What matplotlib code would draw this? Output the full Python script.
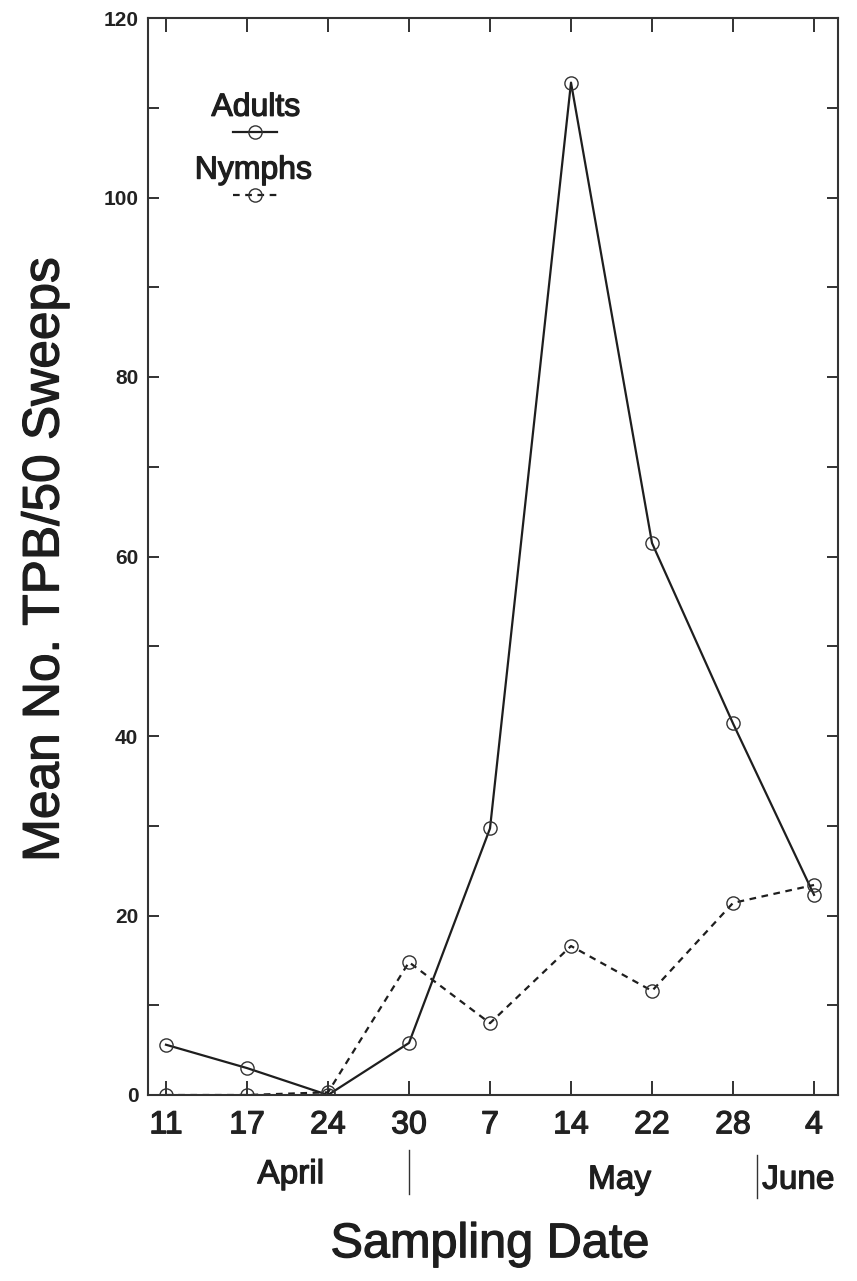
import numpy as np
import matplotlib.pyplot as plt
import matplotlib.patheffects as pe

plt.rcParams["font.family"] = ["Liberation Sans", "DejaVu Sans"]

dates = ["11", "17", "24", "30", "7", "14", "22", "28", "4"]
adults = [5.6, 3.0, 0.0, 5.8, 29.7, 112.8, 61.5, 41.4, 22.3]
nymphs = [0.0, 0.0, 0.3, 14.8, 8.0, 16.6, 11.6, 21.4, 23.4]

x = np.arange(len(dates))
ink = "#1e1e1e"
heavy = [pe.withStroke(linewidth=0.9, foreground=ink)]  # scanned type looks heavier

fig = plt.figure(figsize=(8.57, 12.81), dpi=100)
ax = fig.add_axes([148 / 857, 186 / 1281, 690 / 857, 1077 / 1281])

ax.plot(x, adults, color=ink, lw=1.6, marker="o", ms=9.5,
        mfc="none", mec="#333333", mew=1.0)
ax.plot(x, nymphs, color=ink, lw=1.6, ls=(0, (3, 2.5)), marker="o", ms=9.5,
        mfc="none", mec="#333333", mew=1.0)

ax.set_xlim(-0.222, 8.296)
ax.set_ylim(0, 120)

ax.set_xticks(x)
ax.set_xticklabels(dates, fontsize=23, color=ink, path_effects=heavy)
ax.set_yticks(np.arange(0, 121, 20))
ax.set_yticks(np.arange(0, 121, 10), minor=True)
ax.set_yticklabels([str(v) for v in range(0, 121, 20)], fontsize=15, fontweight="bold",
                   color=ink)

ax.tick_params(axis="x", which="major", direction="in", top=True, length=10,
               width=1.3, pad=11, colors="#222222")
ax.tick_params(axis="y", which="both", direction="in", right=True, length=8,
               width=1.3, pad=7, colors="#222222")
for s in ax.spines.values():
    s.set_linewidth(1.5)
    s.set_color("#333333")

# month labels and dividers below the date ticks
tr = ax.get_xaxis_transform()
ax.plot([3.0, 3.0], [-0.051, -0.092], color="#333333", lw=1.0, transform=tr, clip_on=False)
ax.plot([7.3, 7.3], [-0.056, -0.096], color="#333333", lw=1.0, transform=tr, clip_on=False)
ax.text(1.54, -0.074, "April", transform=tr, ha="center", va="center", fontsize=24,
        color=ink, path_effects=heavy)
ax.text(5.6, -0.079, "May", transform=tr, ha="center", va="center", fontsize=24,
        color=ink, path_effects=heavy)
ax.text(7.36, -0.079, "June", transform=tr, ha="left", va="center", fontsize=24,
        color=ink, path_effects=heavy)

ax.text(4.0, -0.139, "Sampling Date", transform=tr, ha="center", va="center", fontsize=35,
        color=ink, path_effects=heavy)
fig.text(0.0525, 0.563, "Mean No. TPB/50 Sweeps", rotation=90, ha="center", va="center",
         fontsize=37, color=ink, path_effects=heavy)

# hand-made key in the upper left
ax.text(1.11, 110.0, "Adults", ha="center", va="center", fontsize=23, color=ink,
        path_effects=heavy)
ax.plot([0.83, 1.37], [107.3, 107.3], color=ink, lw=1.6)
ax.plot([1.10], [107.3], marker="o", ms=9.5, mfc="none", mec="#333333", mew=1.0)
ax.text(1.08, 103.0, "Nymphs", ha="center", va="center", fontsize=23, color=ink,
        path_effects=heavy)
ax.plot([0.83, 1.37], [100.3, 100.3], color=ink, lw=1.6, ls=(0, (3, 2.5)))
ax.plot([1.10], [100.3], marker="o", ms=9.5, mfc="none", mec="#333333", mew=1.0)

fig.savefig("out.png", dpi=100)
